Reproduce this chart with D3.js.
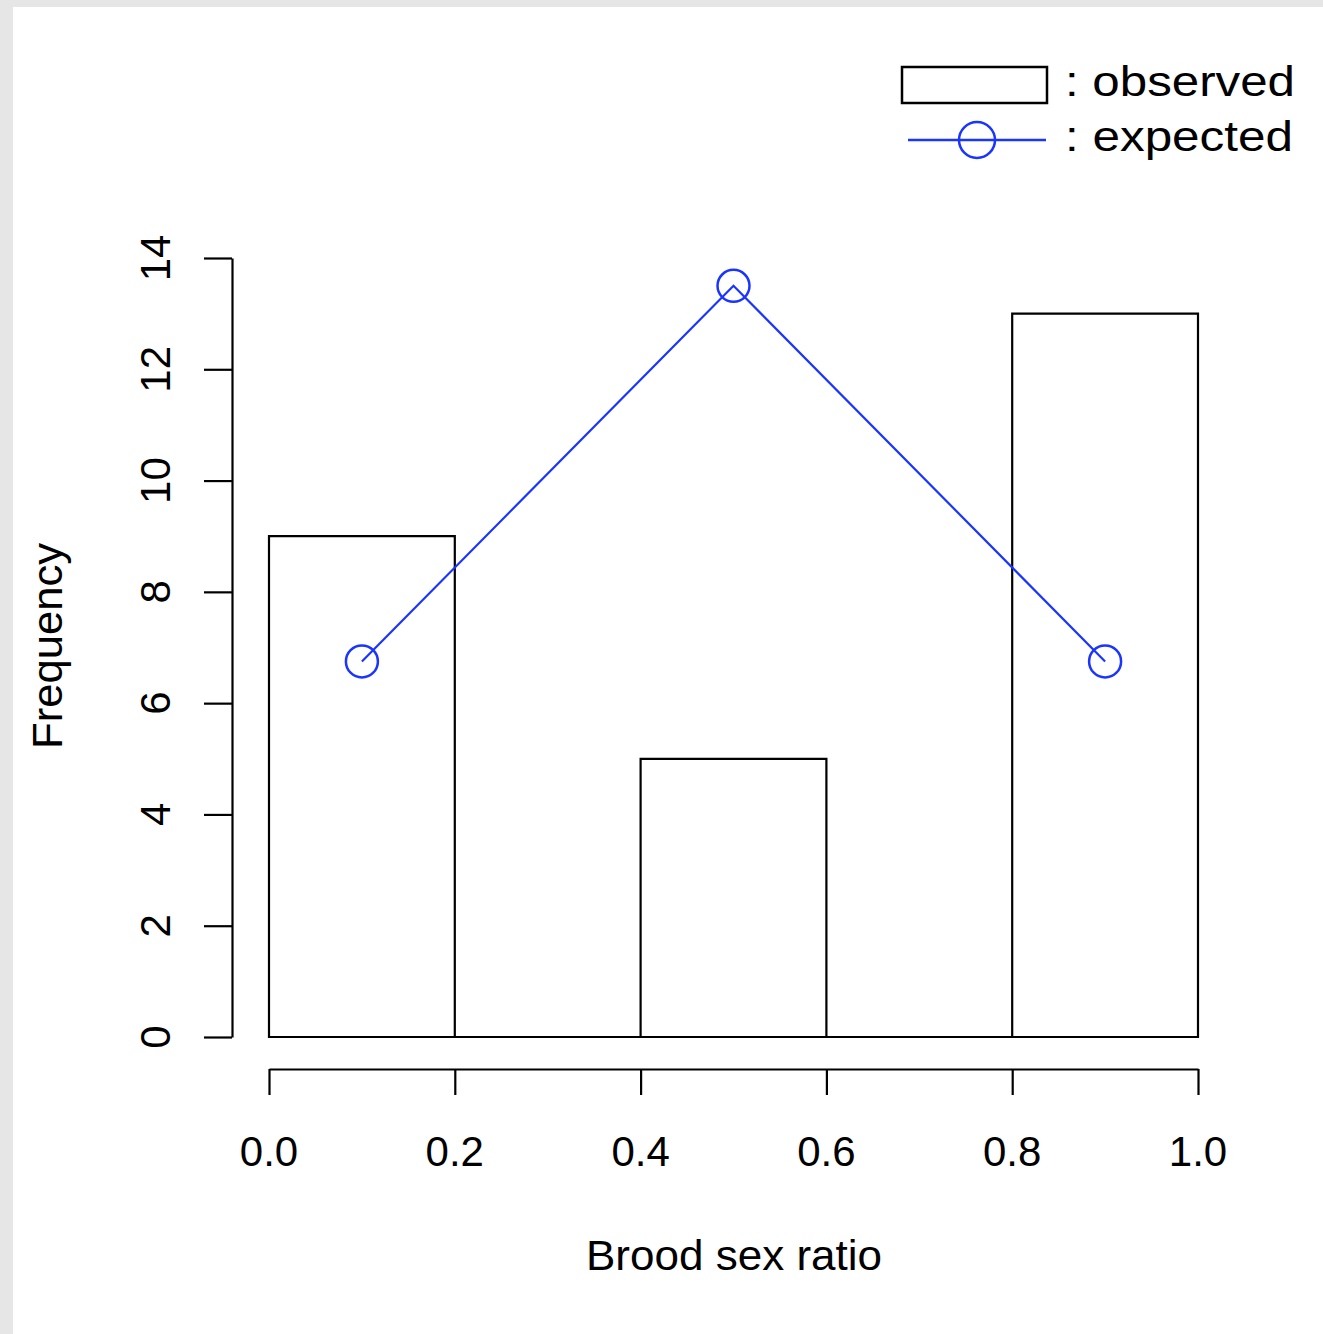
<!doctype html>
<html lang="en">
<head>
    <meta charset="utf-8">
    <title>Brood sex ratio</title>
    <script src="https://d3js.org/d3.v7.min.js"></script>
    <style>
        body { margin: 0; background: #e6e6e6; }
        svg { display: block; }
        text { font-family: "Liberation Sans", Arial, sans-serif; fill: #000; }
    </style>
</head>
<body>
    <script>
       // histogram bins (observed) and expected counts
       let binStarts = [0.0, 0.2, 0.4, 0.6, 0.8];
       let binEnds = [0.2, 0.4, 0.6, 0.8, 1.0];
       let observed = [9, 0, 5, 0, 13];
       let expectedX = [0.1, 0.5, 0.9];
       let expected = [6.75, 13.5, 6.75];
       let xTicks = [0.0, 0.2, 0.4, 0.6, 0.8, 1.0];
       let yTicks = [0, 2, 4, 6, 8, 10, 12, 14];

       let width = 1323, height = 1334;
       let blue = '#1a35ff';

       let svg = d3.select('body').append('svg')
                   .attr('width', width).attr('height', height);

       svg.append('rect').attr('x', 13).attr('y', 7)
          .attr('width', width - 13).attr('height', height - 7)
          .style('fill', 'white');

       let x = d3.scaleLinear().domain([0, 1]).range([269, 1198]);
       let y = d3.scaleLinear().domain([0, 14]).range([1037, 258]);

       // bars (as closed paths so empty bins still show their base line)
       svg.selectAll('path.bar').data(observed).enter().append('path')
          .attr('class', 'bar')
          .attr('d', (d, i) => {
              let x0 = x(binStarts[i]), x1 = x(binEnds[i]);
              return `M${x0},${y(0)}L${x0},${y(d)}L${x1},${y(d)}L${x1},${y(0)}Z`;
          })
          .style('fill', 'none').style('stroke', 'black').style('stroke-width', 2.2);

       // y axis
       let yAxis = svg.append('g').attr('transform', 'translate(232,0)')
          .call(d3.axisLeft(y).tickValues(yTicks).tickSize(28).tickSizeOuter(0).tickFormat(''));
       yAxis.selectAll('path, line').style('stroke', 'black').style('stroke-width', 2.2);
       svg.selectAll('text.ylab').data(yTicks).enter().append('text')
          .attr('class', 'ylab')
          .attr('transform', d => `translate(170,${y(d)}) rotate(-90)`)
          .attr('text-anchor', 'middle')
          .style('font-size', '42px')
          .text(d => d);

       // x axis
       let xAxis = svg.append('g').attr('transform', 'translate(0,1069)')
          .call(d3.axisBottom(x).tickValues(xTicks).tickSize(26).tickSizeOuter(0).tickFormat(''));
       xAxis.selectAll('path, line').style('stroke', 'black').style('stroke-width', 2.2);
       svg.selectAll('text.xlab').data(xTicks).enter().append('text')
          .attr('class', 'xlab')
          .attr('x', d => x(d)).attr('y', 1166)
          .attr('text-anchor', 'middle')
          .style('font-size', '42px')
          .text(d => d.toFixed(1));

       // axis titles
       svg.append('text').attr('x', 734).attr('y', 1270)
          .attr('text-anchor', 'middle').style('font-size', '42px')
          .attr('textLength', 296).attr('lengthAdjust', 'spacingAndGlyphs')
          .text('Brood sex ratio');
       svg.append('text').attr('transform', 'translate(62,646) rotate(-90)')
          .attr('text-anchor', 'middle').style('font-size', '42px')
          .attr('textLength', 206).attr('lengthAdjust', 'spacingAndGlyphs')
          .text('Frequency');

       // expected line + points
       let pts = expected.map((d, i) => [x(expectedX[i]), y(d)]);
       svg.append('path').attr('d', d3.line()(pts))
          .style('fill', 'none').style('stroke', blue).style('stroke-width', 2.2);
       svg.selectAll('circle.exp').data(pts).enter().append('circle')
          .attr('class', 'exp')
          .attr('cx', d => d[0]).attr('cy', d => d[1]).attr('r', 16)
          .style('fill', 'none').style('stroke', blue).style('stroke-width', 2.5);

       // legend
       let lg = svg.append('g');
       lg.append('rect').attr('x', 902).attr('y', 67).attr('width', 145).attr('height', 36)
         .style('fill', 'none').style('stroke', 'black').style('stroke-width', 2.5);
       lg.append('line').attr('x1', 908).attr('x2', 1046).attr('y1', 140).attr('y2', 140)
         .style('stroke', blue).style('stroke-width', 2.5);
       lg.append('circle').attr('cx', 977).attr('cy', 140).attr('r', 18)
         .style('fill', 'none').style('stroke', blue).style('stroke-width', 2.5);
       lg.append('text').attr('x', 1065).attr('y', 96).style('font-size', '43px')
         .attr('textLength', 230).attr('lengthAdjust', 'spacingAndGlyphs').text(': observed');
       lg.append('text').attr('x', 1065).attr('y', 151).style('font-size', '43px')
         .attr('textLength', 228).attr('lengthAdjust', 'spacingAndGlyphs').text(': expected');
    </script>
</body>
</html>
